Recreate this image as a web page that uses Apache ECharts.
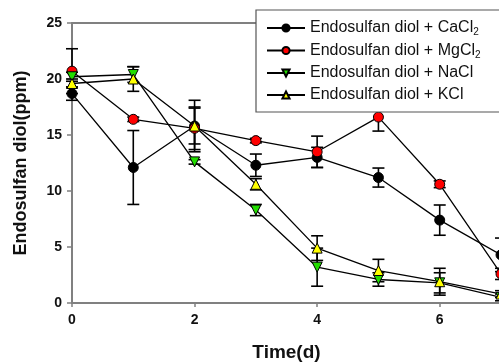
<!DOCTYPE html>
<html><head><meta charset="utf-8">
<script src="https://cdn.jsdelivr.net/npm/echarts@6/dist/echarts.min.js"></script>
<style>html,body{margin:0;padding:0;background:#fff}#c{width:499px;height:362px}</style>
</head><body><div id="c"></div>
<script>
const times = [0, 1, 2, 3, 4, 5, 6, 7];
const xTicks = [0, 2, 4, 6];
const yTicks = [0, 5, 10, 15, 20, 25];
const names = ['CaCl', 'MgCl', 'NaCl', 'KCl'];
const cacl2 = [18.7, 12.1, 15.8, 12.3, 13.0, 11.2, 7.4, 4.3];
const cacl2Err = [0.6, 3.3, 1.6, 1.0, 0.9, 0.85, 1.35, 1.5];
const mgcl2 = [20.7, 16.4, 15.6, 14.5, 13.5, 16.6, 10.6, 2.6];
const mgcl2Err = [2.0, 0.2, 1.9, 0.2, 1.4, 1.25, 0.3, 0.5];
const nacl = [20.2, 20.4, 12.6, 8.3, 3.2, 2.1, 1.8, 0.5];
const naclErr = [0.4, 0.7, 0.2, 0.5, 1.7, 0.6, 0.9, 0.3];
const kcl = [19.6, 20.0, 15.8, 10.6, 4.9, 2.9, 1.9, 0.8];
const kclErr = [0.4, 1.1, 2.3, 0.5, 1.1, 1.0, 1.2, 0.3];

const chart = echarts.init(document.getElementById('c'));
const font = 'Liberation Sans, Arial, sans-serif';

function errSeries(vals, errs) {
  return {
    type: 'custom', xAxisIndex: 0, yAxisIndex: 0, silent: true, clip: false, z: 2,
    data: times.map((t, i) => [t, vals[i] - errs[i], vals[i] + errs[i]]),
    renderItem: function (params, api) {
      const lo = api.coord([api.value(0), api.value(1)]);
      const hi = api.coord([api.value(0), api.value(2)]);
      const w = 6;
      const st = { stroke: '#000', lineWidth: 1.6 };
      return { type: 'group', children: [
        { type: 'line', shape: { x1: lo[0], y1: lo[1], x2: hi[0], y2: hi[1] }, style: st },
        { type: 'line', shape: { x1: lo[0] - w, y1: lo[1], x2: lo[0] + w, y2: lo[1] }, style: st },
        { type: 'line', shape: { x1: hi[0] - w, y1: hi[1], x2: hi[0] + w, y2: hi[1] }, style: st }
      ]};
    }
  };
}
function lineSeries(name, vals, symbol, color, size, rotate) {
  return {
    name: name, type: 'line', data: times.map((t, i) => [t, vals[i]]),
    symbol: symbol, symbolSize: size, symbolRotate: rotate || 0, clip: false, z: 3,
    lineStyle: { color: '#000', width: 1.3 },
    itemStyle: { color: color, borderColor: '#000', borderWidth: 1 },
    emphasis: { disabled: true }
  };
}

chart.setOption({
  animation: false,
  grid: { left: 72, right: -2, top: 23, bottom: 59, outerBoundsMode: 'none', containLabel: false },
  legend: {
    left: 256, top: 10, orient: 'vertical', itemWidth: 38, itemHeight: 9, itemGap: 4,
    padding: [9, 90, 8, 10], borderColor: '#555', borderWidth: 1.2, backgroundColor: '#fff',
    textStyle: { fontFamily: font, fontSize: 16, color: '#111', lineHeight: 18,
      rich: { sub: { fontFamily: font, fontSize: 10, color: '#111', padding: [9, 0, 0, 0] } } },
    formatter: function (n) {
      if (n === 'CaCl' || n === 'MgCl') return 'Endosulfan diol + ' + n + '{sub|2}';
      return 'Endosulfan diol + ' + n;
    },
    data: names
  },
  xAxis: [{
    type: 'value', min: 0, max: 7, interval: 1,
    name: 'Time(d)', nameLocation: 'middle', nameGap: 40,
    nameTextStyle: { fontFamily: font, fontSize: 19, fontWeight: 'bold', color: '#111' },
    axisLine: { lineStyle: { color: '#808080', width: 2 } },
    axisTick: { show: true, length: 4, lineStyle: { color: '#808080', width: 1.5 },
      customValues: xTicks },
    axisLabel: { fontFamily: font, fontSize: 14, fontWeight: 'bold', color: '#111', margin: 10,
      customValues: xTicks },
    splitLine: { show: false }
  }, {
    type: 'value', min: 0, max: 7, position: 'top',
    axisLine: { show: true, lineStyle: { color: '#808080', width: 2 } },
    axisTick: { show: false }, axisLabel: { show: false }, splitLine: { show: false }
  }],
  yAxis: {
    type: 'value', min: 0, max: 25, interval: 5,
    name: 'Endosulfan diol(ppm)', nameLocation: 'middle', nameGap: 42,
    nameTextStyle: { fontFamily: font, fontSize: 18, fontWeight: 'bold', color: '#111' },
    axisLine: { show: true, lineStyle: { color: '#808080', width: 2 } },
    axisTick: { show: true, length: 5, lineStyle: { color: '#808080', width: 1.5 } },
    axisLabel: { fontFamily: font, fontSize: 14, fontWeight: 'bold', color: '#111', margin: 10,
      formatter: v => yTicks.includes(v) ? String(v) : '' },
    splitLine: { show: false }
  },
  series: [
    errSeries(cacl2, cacl2Err), errSeries(mgcl2, mgcl2Err),
    errSeries(nacl, naclErr), errSeries(kcl, kclErr),
    lineSeries('CaCl', cacl2, 'circle', '#000', 10),
    lineSeries('MgCl', mgcl2, 'circle', '#ff0000', 10),
    lineSeries('NaCl', nacl, 'triangle', '#22dd00', 10, 180),
    lineSeries('KCl', kcl, 'triangle', '#ffff00', 10)
  ]
});
</script></body></html>
